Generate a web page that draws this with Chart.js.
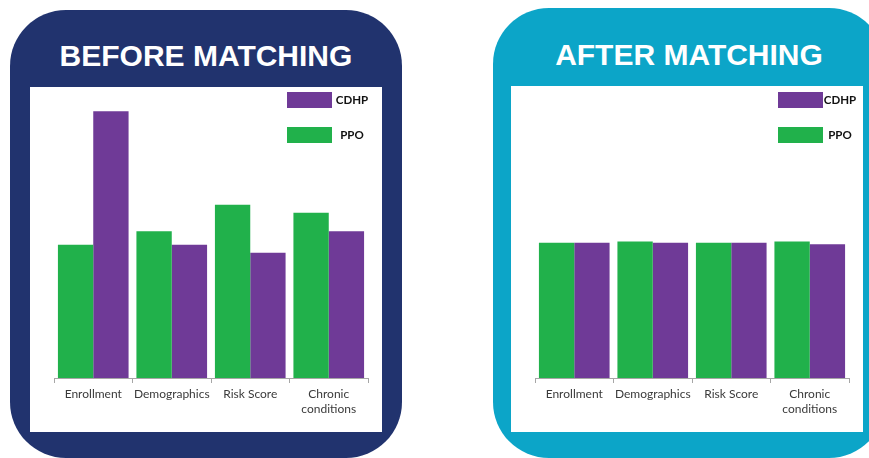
<!DOCTYPE html>
<html>
<head>
<meta charset="utf-8">
<title>Before / After Matching</title>
<script src="https://cdn.jsdelivr.net/npm/chart.js@4.4.0/dist/chart.umd.min.js"></script>
<style>
  body { margin: 0; width: 869px; height: 458px; overflow: hidden; background: #fff; position: relative; }
  .panel { position: absolute; width: 392px; border-radius: 56px; }
  .title { position: absolute; width: 392px; height: 36px; line-height: 36px; text-align: center;
           color: #fff; font: bold 30px "Liberation Sans", Arial, sans-serif; }
  .box { position: absolute; background: #fff; width: 352px; }
</style>
</head>
<body>

<div class="panel" style="left:10px; top:10px; height:448px; background:#21336e;"></div>
<div class="title" style="left:10px; top:39px;">BEFORE MATCHING</div>
<div class="box" style="left:30px; top:87px; height:345px;"><canvas id="chartBefore" width="352" height="345"></canvas></div>

<div class="panel" style="left:493px; top:8px; height:450px; background:#0ca5c8;"></div>
<div class="title" style="left:493px; top:38px;">AFTER MATCHING</div>
<div class="box" style="left:511px; top:86px; height:346px;"><canvas id="chartAfter" width="352" height="346"></canvas></div>

<script>
var categories = ['Enrollment', 'Demographics', 'Risk Score', ['Chronic', 'conditions']];

var ppoBefore = [50, 55, 65, 62];
var cdhpBefore = [100, 50, 47, 55];

var ppoAfter = [50.5, 51, 50.5, 51];
var cdhpAfter = [50.5, 50.5, 50.5, 50];

var green = '#21b14b';
var purple = '#6f3a97';

// legend boxes stacked in the top right corner (CDHP on top)
var boxLegend = {
    id: 'boxLegend',
    afterDraw: function (chart, args, opts) {
        var ctx = chart.ctx;
        var ds = chart.data.datasets;
        ctx.save();
        ctx.font = 'bold 11.5px Lato';
        ctx.textAlign = 'center';
        ctx.textBaseline = 'middle';
        for (var i = ds.length - 1, row = 0; i >= 0; i--, row++) {
            var y = opts.y + row * 35;
            ctx.fillStyle = ds[i].backgroundColor;
            ctx.fillRect(opts.x, y, 45, 16);
            ctx.fillStyle = '#111';
            ctx.fillText(ds[i].label, opts.x + opts.textOffset, y + 8.5);
        }
        ctx.restore();
    }
};

function veBieuDo(id, ppo, cdhp, legendX, legendY, textOffset) {
    return new Chart(document.getElementById(id), {
        type: 'bar',
        data: {
            labels: categories,
            datasets: [
                { label: 'PPO', data: ppo, backgroundColor: green },
                { label: 'CDHP', data: cdhp, backgroundColor: purple }
            ]
        },
        options: {
            responsive: false,
            animation: false,
            layout: { padding: { left: 24, right: 14, top: 11, bottom: 0 } },
            datasets: { bar: { categoryPercentage: 0.9, barPercentage: 1 } },
            scales: {
                x: {
                    grid: { offset: true, drawOnChartArea: false, tickLength: 5, color: '#a6a6a6' },
                    border: { color: '#a6a6a6' },
                    ticks: {
                        color: '#3a3a3a',
                        font: { family: 'Lato', size: 12, lineHeight: 1.25 },
                        padding: 4,
                        maxRotation: 0,
                        autoSkip: false
                    },
                    afterFit: function (scale) { scale.height = 54; }
                },
                y: { display: false, min: 0, max: 105 }
            },
            plugins: {
                legend: { display: false },
                tooltip: { enabled: false },
                boxLegend: { x: legendX, y: legendY, textOffset: textOffset }
            }
        },
        plugins: [boxLegend]
    });
}

veBieuDo('chartBefore', ppoBefore, cdhpBefore, 257, 5, 65);
veBieuDo('chartAfter', ppoAfter, cdhpAfter, 267, 6, 62);
</script>
</body>
</html>
